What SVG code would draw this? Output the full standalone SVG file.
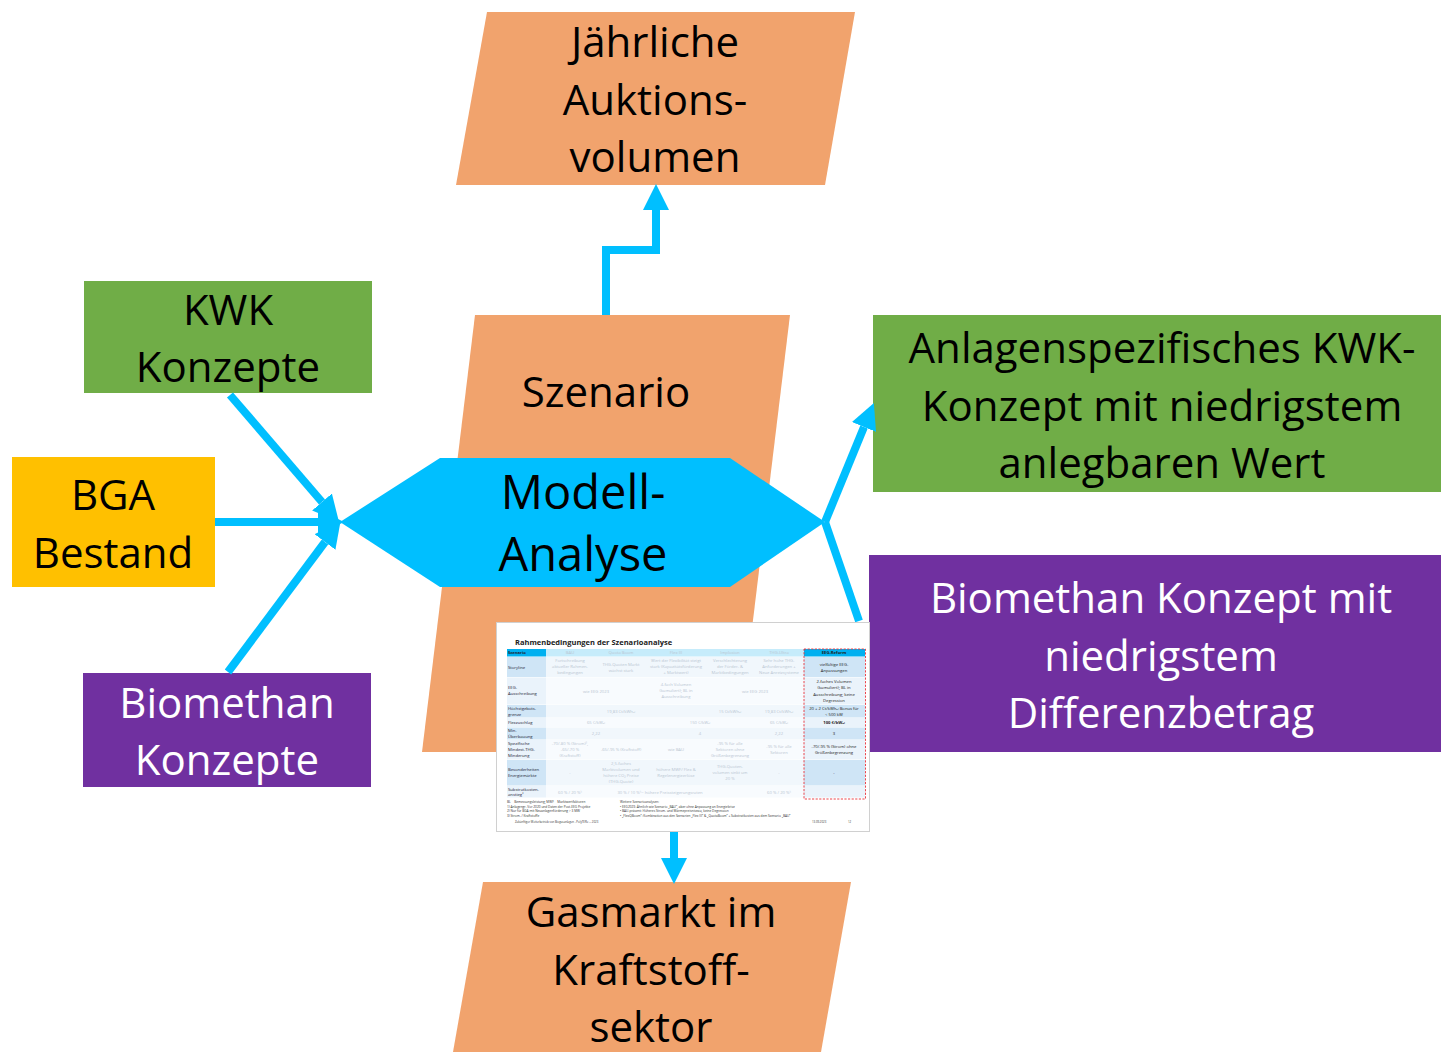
<svg xmlns="http://www.w3.org/2000/svg" width="1441" height="1052" viewBox="0 0 1441 1052">
<defs>
<style>
.t{font-family:"Open Sans","Noto Sans","DejaVu Sans",sans-serif;font-size:42px;text-anchor:middle;fill:#000}
.w{fill:#fff}
.big{font-size:47px}
.or{fill:#F1A36D}
.gr{fill:#70AD47}
.pu{fill:#7030A0}
.ye{fill:#FFC000}
.bl{fill:#00BFFF}
.c{stroke:#00BFFF;stroke-width:8;fill:none}
.s{font-family:"Open Sans","Noto Sans",sans-serif;font-size:4.2px;fill:#223;}
.f{font-family:"Open Sans","Noto Sans",sans-serif;font-size:4.2px;fill:#b9c6d2;text-anchor:middle}
.d{font-family:"Open Sans","Noto Sans",sans-serif;font-size:4.2px;fill:#222;text-anchor:middle}
.n{font-family:"Open Sans","Noto Sans",sans-serif;font-size:3.2px;fill:#333}
</style>
<marker id="ah" markerUnits="userSpaceOnUse" markerWidth="26" markerHeight="26" viewBox="0 0 24 24" refX="0" refY="12" orient="auto">
<path d="M0,0 L24,12 L0,24 z" fill="#00BFFF"/>
</marker>
</defs>

<g id="node-auktion">
<polygon class="or" points="487,12 855,12 825,185 456,185"/>
<text class="t" x="655" y="57">Jährliche</text>
<text class="t" x="655" y="115">Auktions-</text>
<text class="t" x="655" y="172">volumen</text>
</g>

<g id="node-szenario">
<polygon class="or" points="475,315 790,315 737,752 422,752"/>
<text class="t" x="606" y="407">Szenario</text>
</g>

<g id="node-kwk">
<rect class="gr" x="84" y="281" width="288" height="112"/>
<text class="t" x="228" y="325">KWK</text>
<text class="t" x="228" y="382">Konzepte</text>
</g>

<g id="node-bga">
<rect class="ye" x="12" y="457" width="203" height="130"/>
<text class="t" x="113" y="510">BGA</text>
<text class="t" x="113" y="568">Bestand</text>
</g>

<g id="node-biomethan-konzepte">
<rect class="pu" x="83" y="673" width="288" height="114"/>
<text class="t w" x="227" y="718">Biomethan</text>
<text class="t w" x="227" y="775">Konzepte</text>
</g>

<g id="node-anlagen">
<rect class="gr" x="873" y="315" width="568" height="177"/>
<text class="t" x="1162" y="363">Anlagenspezifisches KWK-</text>
<text class="t" x="1162" y="421">Konzept mit niedrigstem</text>
<text class="t" x="1162" y="478">anlegbaren Wert</text>
</g>

<g id="node-biomethan-konzept">
<rect class="pu" x="869" y="555" width="572" height="197"/>
<text class="t w" x="1161" y="613">Biomethan Konzept mit</text>
<text class="t w" x="1161" y="671">niedrigstem</text>
<text class="t w" x="1161" y="728">Differenzbetrag</text>
</g>

<g id="node-gasmarkt">
<polygon class="or" points="483,882 851,882 821,1052 453,1052"/>
<text class="t" x="651" y="927">Gasmarkt im</text>
<text class="t" x="651" y="985">Kraftstoff-</text>
<text class="t" x="651" y="1042">sektor</text>
</g>

<g id="node-modell">
<polygon class="bl" points="340,522 440,458 730,458 825,522 730,587 440,587"/>
<text class="t big" x="583" y="509">Modell-</text>
<text class="t big" x="583" y="571">Analyse</text>
</g>

<g id="connectors">
<line class="c" x1="230" y1="395" x2="322" y2="502" marker-end="url(#ah)"/>
<line class="c" x1="215" y1="522" x2="318" y2="522" marker-end="url(#ah)"/>
<line class="c" x1="228" y1="672" x2="325" y2="542" marker-end="url(#ah)"/>
<polyline class="c" points="825,522 864,427" marker-end="url(#ah)"/>
<line class="c" x1="825" y1="522" x2="859" y2="621"/>
<polyline class="c" points="606,315 606,250 656,250 656,210" marker-end="url(#ah)"/>
<line class="c" x1="674" y1="832" x2="674" y2="858" marker-end="url(#ah)"/>
</g>

<g id="table-image">
<rect x="496.5" y="622.5" width="373" height="209" fill="#fff" stroke="#d0d0d0" stroke-width="1"/>
<text x="515" y="645" style="font-family:'Open Sans','Noto Sans',sans-serif;font-size:7.5px;font-weight:bold;fill:#222">Rahmenbedingungen der Szenarioanalyse</text>
<rect x="507" y="649" width="39" height="7.5" fill="#00B0F0"/>
<rect x="546" y="649" width="258" height="7.5" fill="#C6ECFB"/>
<rect x="804" y="649" width="61" height="7.5" fill="#00B0F0"/>
<g>
<rect x="507" y="657" width="39" height="20" fill="#CFE5F6"/><rect x="546" y="657" width="258" height="20" fill="#F1F7FC"/><rect x="804" y="657" width="61" height="20" fill="#CFE5F6"/>
<rect x="507" y="677.5" width="39" height="27" fill="#EAF3FB"/><rect x="546" y="677.5" width="258" height="27" fill="#F8FBFE"/><rect x="804" y="677.5" width="61" height="27" fill="#EAF3FB"/>
<rect x="507" y="705" width="39" height="12.5" fill="#CFE5F6"/><rect x="546" y="705" width="258" height="12.5" fill="#F1F7FC"/><rect x="804" y="705" width="61" height="12.5" fill="#CFE5F6"/>
<rect x="507" y="718" width="39" height="9" fill="#EAF3FB"/><rect x="546" y="718" width="258" height="9" fill="#F8FBFE"/><rect x="804" y="718" width="61" height="9" fill="#EAF3FB"/>
<rect x="507" y="727.5" width="39" height="12" fill="#CFE5F6"/><rect x="546" y="727.5" width="258" height="12" fill="#F1F7FC"/><rect x="804" y="727.5" width="61" height="12" fill="#CFE5F6"/>
<rect x="507" y="740" width="39" height="19.5" fill="#EAF3FB"/><rect x="546" y="740" width="258" height="19.5" fill="#F8FBFE"/><rect x="804" y="740" width="61" height="19.5" fill="#EAF3FB"/>
<rect x="507" y="760" width="39" height="25.5" fill="#CFE5F6"/><rect x="546" y="760" width="258" height="25.5" fill="#F1F7FC"/><rect x="804" y="760" width="61" height="25.5" fill="#CFE5F6"/>
<rect x="507" y="786" width="39" height="11.5" fill="#EAF3FB"/><rect x="546" y="786" width="258" height="11.5" fill="#F8FBFE"/><rect x="804" y="786" width="61" height="11.5" fill="#EAF3FB"/>
</g>
<text class="s" x="508" y="654.3" style="font-weight:bold">Szenario</text>
<text class="f" x="570" y="654.3">BAU</text>
<text class="f" x="621" y="654.3">Quota Boom</text>
<text class="f" x="676" y="654.3">Flex III</text>
<text class="f" x="730" y="654.3">Implosion</text>
<text class="f" x="779" y="654.3">THG-Ultra</text>
<text class="d" x="834" y="654.3" style="font-weight:bold">EEG-Reform</text>
<text class="s" x="508" y="668.5">Storyline</text>
<text class="s" x="508" y="688.5">EEG-</text>
<text class="s" x="508" y="694.8">Ausschreibung</text>
<text class="s" x="508" y="710.3">Höchstgebots-</text>
<text class="s" x="508" y="716">grenze</text>
<text class="s" x="508" y="724">Flexzuschlag</text>
<text class="s" x="508" y="731.8">Min.</text>
<text class="s" x="508" y="738">Überbauung</text>
<text class="s" x="508" y="745">Spezifische</text>
<text class="s" x="508" y="751">Mindest-THG-</text>
<text class="s" x="508" y="757">Minderung</text>
<text class="s" x="508" y="771">Besonderheiten</text>
<text class="s" x="508" y="777">Energiemärkte</text>
<text class="s" x="508" y="790.5">Substratkosten-</text>
<text class="s" x="508" y="796.3">anstieg⁴</text>
<text class="f" x="570" y="662">Fortschreibung</text><text class="f" x="570" y="668">aktueller Rahmen-</text><text class="f" x="570" y="674">bedingungen</text>
<text class="f" x="621" y="666">THG-Quoten Markt</text><text class="f" x="621" y="672">wächst stark</text>
<text class="f" x="676" y="662">Wert der Flexibilität steigt</text><text class="f" x="676" y="668">stark (Kapazitätsförderung</text><text class="f" x="676" y="674">+ Marktwert)</text>
<text class="f" x="730" y="662">Verschlechterung</text><text class="f" x="730" y="668">der Förder- &amp;</text><text class="f" x="730" y="674">Marktbedingungen</text>
<text class="f" x="779" y="662">Sehr hohe THG-</text><text class="f" x="779" y="668">Anforderungen +</text><text class="f" x="779" y="674">Neue Anreizsysteme</text>
<text class="d" x="834" y="666">vielfältige EEG-</text><text class="d" x="834" y="672">Anpassungen</text>
<text class="f" x="596" y="692.5">wie EEG 2023</text>
<text class="f" x="676" y="686">4-fach Volumen</text><text class="f" x="676" y="692">(kumuliert); BL in</text><text class="f" x="676" y="698">Ausschreibung</text>
<text class="f" x="755" y="692.5">wie EEG 2023</text>
<text class="d" x="834" y="683">2-faches Volumen</text><text class="d" x="834" y="689">(kumuliert); BL in</text><text class="d" x="834" y="695.5">Ausschreibung; keine</text><text class="d" x="834" y="702">Degression</text>
<text class="f" x="621" y="713">19,83 Ct/kWhₑₗ</text>
<text class="f" x="730" y="713">15 Ct/kWhₑₗ</text>
<text class="f" x="779" y="713">19,83 Ct/kWhₑₗ</text>
<text class="d" x="834" y="710">20 + 2 Ct/kWhₑₗ Bonus für</text><text class="d" x="834" y="716">&lt; 500 kW</text>
<text class="f" x="596" y="724">65 €/kWₑₗ</text>
<text class="f" x="700" y="724">150 €/kWₑₗ</text>
<text class="f" x="779" y="724">65 €/kWₑₗ</text>
<text class="d" x="834" y="724" style="font-weight:bold">100 €/kWₑₗ</text>
<text class="f" x="596" y="735">2,22</text>
<text class="f" x="700" y="735">4</text>
<text class="f" x="779" y="735">2,22</text>
<text class="d" x="834" y="735">3</text>
<text class="f" x="570" y="745">-70/-80 % (Strom)³,</text><text class="f" x="570" y="751">-65/-70 %</text><text class="f" x="570" y="757">(Kraftstoff)</text>
<text class="f" x="621" y="751">-65/-95 % (Kraftstoff)</text>
<text class="f" x="676" y="751">wie BAU</text>
<text class="f" x="730" y="745">-95 % für alle</text><text class="f" x="730" y="751">Sektoren ohne</text><text class="f" x="730" y="757">Größenbegrenzung</text>
<text class="f" x="779" y="748">-95 % für alle</text><text class="f" x="779" y="754">Sektoren</text>
<text class="d" x="834" y="748">-70/-95 % (Strom) ohne</text><text class="d" x="834" y="754">Größenbegrenzung</text>
<text class="f" x="570" y="774">-</text>
<text class="f" x="621" y="764.5">2,5-faches</text><text class="f" x="621" y="770.5">Marktvolumen und</text><text class="f" x="621" y="776.5">höhere CO₂ Preise</text><text class="f" x="621" y="782.5">(THG-Quote)</text>
<text class="f" x="676" y="771">höhere MWF/ Flex &amp;</text><text class="f" x="676" y="777">Regelenergieerlöse</text>
<text class="f" x="730" y="767.5">THG-Quoten-</text><text class="f" x="730" y="773.5">volumen sinkt um</text><text class="f" x="730" y="779.5">20 %</text>
<text class="f" x="779" y="774">-</text>
<text class="d" x="834" y="774">-</text>
<text class="f" x="570" y="794">60 % / 20 %⁵</text>
<text class="f" x="660" y="794">30 % / 10 %⁵= höhere Preissteigerungsraten</text>
<text class="f" x="779" y="794">60 % / 20 %⁵</text>
<rect x="804" y="649" width="61.5" height="150" fill="none" stroke="#E8323A" stroke-width="0.9" stroke-dasharray="2.2,1.4"/>
<text class="n" x="507" y="803">BL = Bemessungsleistung; MWF = Marktwertfaktoren</text>
<text class="n" x="507" y="807.5">1)     Anlagengr. Vor 2020 und Daten der Post-EEG Projekte</text>
<text class="n" x="507" y="812">2)     Nur für BGA mit Neuanlagenförderung &gt; 3 MW</text>
<text class="n" x="507" y="816.5">3)     Strom- / Kraftstoffe</text>
<text class="n" x="620" y="803">Weitere Szenarioanalysen:</text>
<text class="n" x="620" y="807.5">•   EEG2023: Ähnlich wie Szenario „BAU“, aber ohne Anpassung an Energiekrise</text>
<text class="n" x="620" y="812">•   BAU-präsent: Höheres Strom- und Wärmepreisniveau, keine Degression</text>
<text class="n" x="620" y="816.5">•   „FlexQBoom“:  Kombination aus den Szenarien „Flex III“ &amp; „QuotaBoom“ + Substratkosten aus dem Szenario „BAU“</text>
<text class="n" x="515" y="823" style="font-size:2.8px">Zukünftiger Weiterbetrieb von Biogasanlagen - PolyTERe ... 2023</text>
<text class="n" x="812" y="823" style="font-size:2.8px">13.09.2023</text>
<text class="n" x="848" y="823" style="font-size:2.8px">12</text>
</g>
</svg>
